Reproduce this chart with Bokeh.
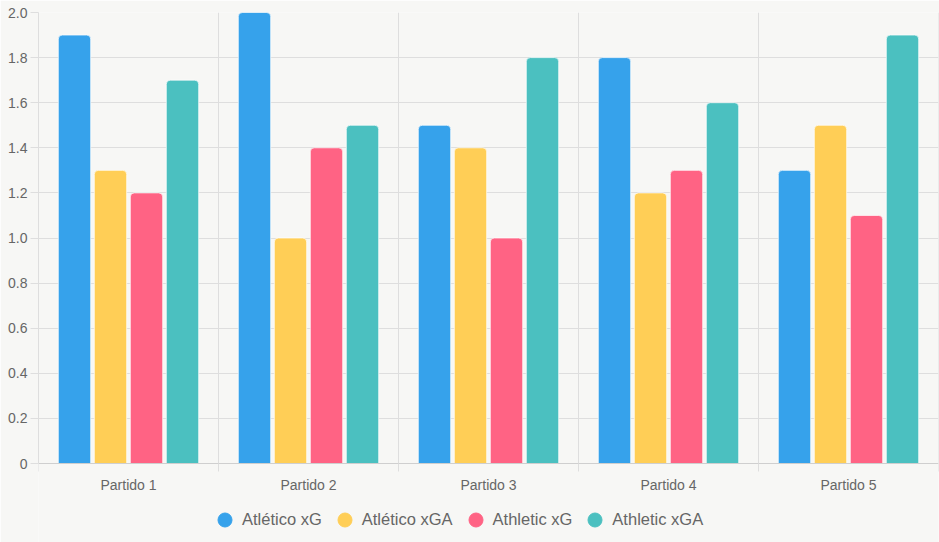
from bokeh.plotting import figure
from bokeh.models import (ColumnDataSource, FixedTicker, Range1d, Legend, LegendItem,
                          CustomJSTickFormatter)
from bokeh.embed import file_html
from bokeh.resources import INLINE

# Match data
partidos = ["Partido 1", "Partido 2", "Partido 3", "Partido 4", "Partido 5"]
atletico_xg = [1.9, 2.0, 1.5, 1.8, 1.3]
atletico_xga = [1.3, 1.0, 1.4, 1.2, 1.5]
athletic_xg = [1.2, 1.4, 1.0, 1.3, 1.1]
athletic_xga = [1.7, 1.5, 1.8, 1.6, 1.9]

series_names = ["Atlético xG", "Atlético xGA", "Athletic xG", "Athletic xGA"]
series_values = [atletico_xg, atletico_xga, athletic_xg, athletic_xga]
series_colors = ["#36A2EB", "#FFCE56", "#FF6384", "#4BC0C0"]

y_ticks = [0, 0.2, 0.4, 0.6, 0.8, 1.0, 1.2, 1.4, 1.6, 1.8, 2.0]
y_max = 2.0

BG = "#f7f7f5"
GRID = "#dedede"
TEXT = "#666666"
FONT = "Liberation Sans"

# Layout in pixels: the value area spans 451 px, and the frame continues
# 79 px below zero to hold the category labels and the legend.
W, H = 939, 542
TOP, LEFT, PLOT_H, BELOW = 12, 38, 451, 79
y_start = -BELOW * y_max / PLOT_H

p = figure(width=W, height=H, output_backend="svg", toolbar_location=None,
           x_range=Range1d(0, len(partidos)), y_range=Range1d(y_start, y_max),
           min_border_left=LEFT, min_border_right=1, min_border_top=TOP,
           min_border_bottom=0)
p.background_fill_color = BG
p.border_fill_color = BG
p.outline_line_color = None

# vertical grid lines at the slot boundaries, limited to the value area
boundaries = list(range(len(partidos) + 1))
p.xgrid.visible = False
p.segment(x0=boundaries, y0=[0] * len(boundaries), x1=boundaries,
          y1=[y_max] * len(boundaries), line_color=GRID, line_width=1)
p.ygrid.grid_line_color = GRID

# grouped bars: four series side by side inside each match slot
offsets = [-0.3, -0.1, 0.1, 0.3]
centers = [i + 0.5 for i in range(len(partidos))]
for name, vals, color, off in zip(series_names, series_values, series_colors, offsets):
    src = ColumnDataSource(dict(x=[c + off for c in centers], top=vals))
    p.vbar(x="x", top="top", width=0.18, bottom=0, source=src,
           fill_color=color, line_color="white", line_alpha=0.7, line_width=1,
           border_radius=(4, 4, 0, 0))

# y axis
p.yaxis.ticker = FixedTicker(ticks=y_ticks)
p.yaxis.bounds = (0, y_max)
p.yaxis.formatter = CustomJSTickFormatter(code="return tick == 0 ? '0' : tick.toFixed(1);")
p.yaxis.major_tick_out = 8
p.yaxis.major_tick_in = 0
p.yaxis.minor_tick_line_color = None
p.yaxis.major_tick_line_color = GRID
p.yaxis.axis_line_color = GRID
p.yaxis.major_label_standoff = 3
p.yaxis.major_label_text_font = FONT
p.yaxis.major_label_text_font_size = "14px"
p.yaxis.major_label_text_color = TEXT

# x axis sits on the zero line: labels at slot centres, tick marks at slot boundaries
p.xaxis.fixed_location = 0
p.xaxis.ticker = FixedTicker(ticks=centers, minor_ticks=boundaries)
p.xaxis.major_label_overrides = {c: name for c, name in zip(centers, partidos)}
p.xaxis.major_tick_out = 0
p.xaxis.major_tick_in = 0
p.xaxis.minor_tick_out = 8
p.xaxis.minor_tick_in = 0
p.xaxis.minor_tick_line_color = GRID
p.xaxis.axis_line_color = "#cfcfcf"
p.xaxis.major_label_standoff = 5
p.xaxis.major_label_text_font = FONT
p.xaxis.major_label_text_font_size = "14px"
p.xaxis.major_label_text_color = TEXT

# legend with round markers (the marker renderers hold no visible points;
# they only provide the legend swatches)
nan = float("nan")
items = []
for name, color in zip(series_names, series_colors):
    r = p.scatter(x=[nan], y=[nan], marker="circle", fill_color=color, line_color=color)
    items.append(LegendItem(label=name, renderers=[r]))

legend = Legend(items=items, orientation="horizontal", location=(169, 5),
                glyph_width=35, glyph_height=35, label_standoff=0, spacing=5,
                padding=0, margin=0, border_line_color=None,
                background_fill_alpha=0, label_text_font=FONT,
                label_text_font_size="16.5px", label_text_color=TEXT)
p.add_layout(legend, "center")

open("out.html", "w").write(file_html(p, INLINE))
